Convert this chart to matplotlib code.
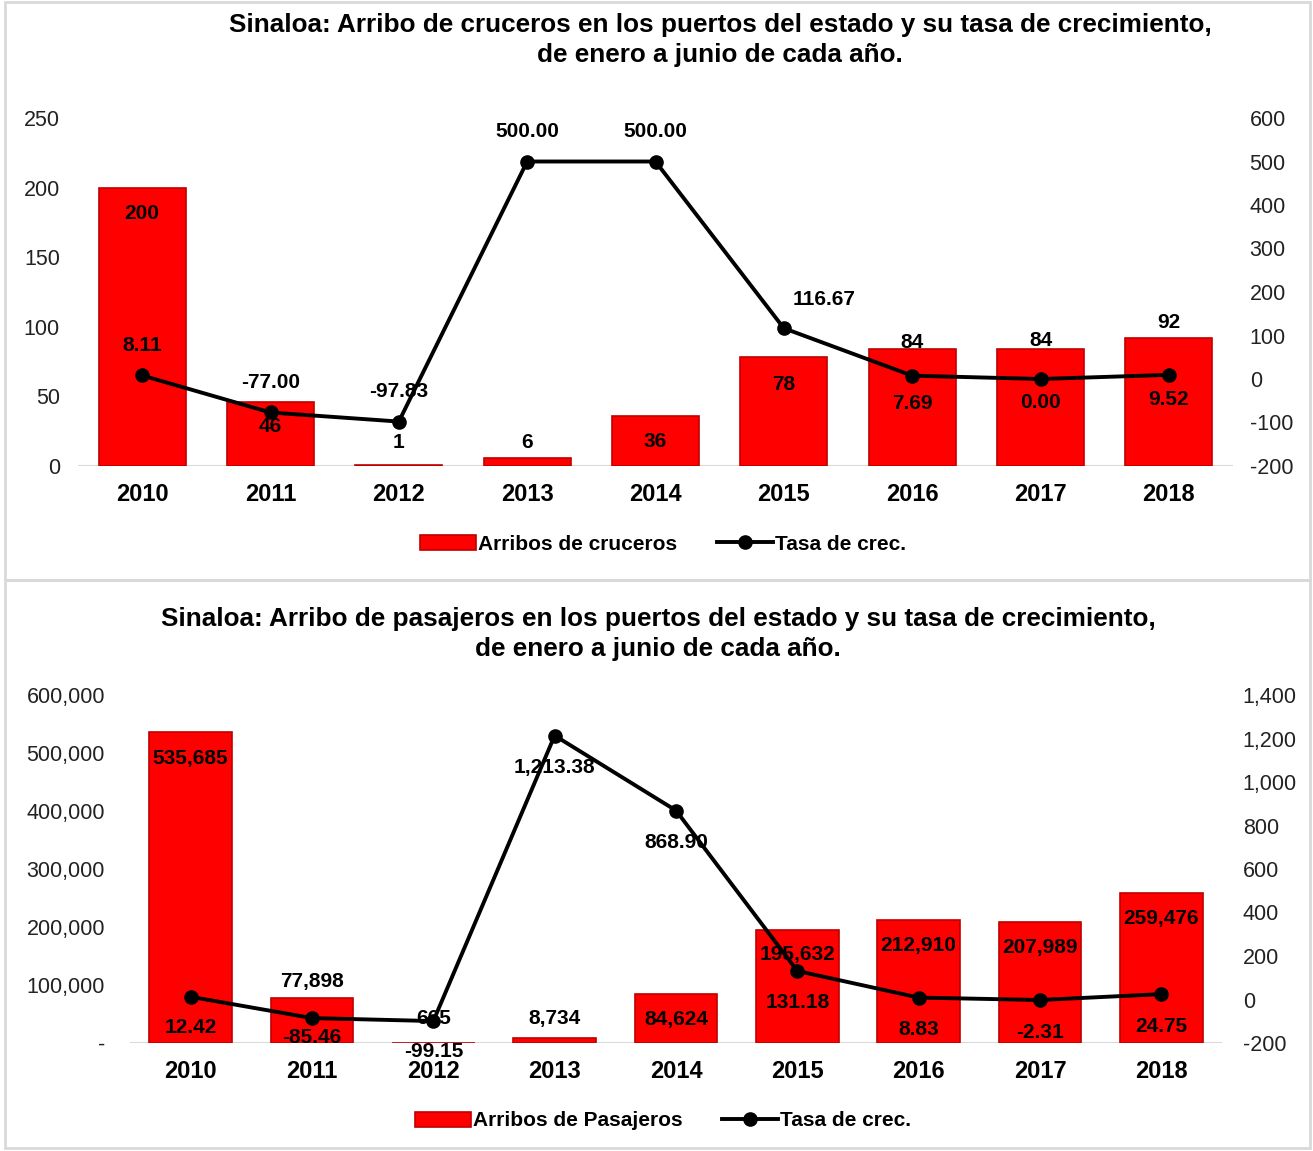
import matplotlib
matplotlib.use('Agg')
import matplotlib.pyplot as plt
from matplotlib.patches import Rectangle
from matplotlib.ticker import FuncFormatter

plt.rcParams['font.family'] = ['Liberation Sans', 'DejaVu Sans']

# data
years = ['2010', '2011', '2012', '2013', '2014', '2015', '2016', '2017', '2018']
cruceros = [200, 46, 1, 6, 36, 78, 84, 84, 92]
tasa_cruceros = [8.11, -77.00, -97.83, 500.00, 500.00, 116.67, 7.69, 0.00, 9.52]
pasajeros = [535685, 77898, 665, 8734, 84624, 195632, 212910, 207989, 259476]
tasa_pasajeros = [12.42, -85.46, -99.15, 1213.38, 868.90, 131.18, 8.83, -2.31, 24.75]

W, H = 1313, 1151
fig = plt.figure(figsize=(W / 100, H / 100), dpi=100)
PT = 0.72  # points per pixel at dpi 100


def rect(l, t, r, b):
    return [l / W, 1 - b / H, (r - l) / W, (b - t) / H]


# panel frames
for t, b in [(2, 580), (580, 1148)]:
    fig.patches.append(Rectangle((5 / W, 1 - b / H), 1305 / W, (b - t) / H,
                                 transform=fig.transFigure, fill=False,
                                 edgecolor='#d9d9d9', lw=2))


def panel(box, bars, rates, ylim, yticks, y2lim, y2ticks, lfmt, rfmt, pads,
          bar_dy, line_off, bar_lbl, rate_lbl, title, title_xy, leg_y, bar_name):
    ax = fig.add_axes(rect(*box))
    x = range(len(years))
    ax.bar(x, bars, width=0.68, color='#ff0000', edgecolor='#c00000', lw=1.2,
           label=bar_name, zorder=2)
    ax.axhline(0, color='#d9d9d9', lw=1.5, zorder=1)
    ax.set_xlim(-0.5, len(years) - 0.5)
    ax.set_ylim(*ylim)
    ax.set_yticks(yticks)
    ax.yaxis.set_major_formatter(FuncFormatter(lfmt))
    ax.set_xticks(list(x))
    ax.set_xticklabels(years, fontsize=17, fontweight='bold')
    ax.tick_params(axis='x', length=0, pad=12)
    ax.tick_params(axis='y', length=0, labelsize=15.5, colors='#222222', pad=pads[0])
    for s in ax.spines.values():
        s.set_visible(False)

    ax2 = ax.twinx()
    ax2.plot(x, rates, color='black', lw=2.8, marker='o', markersize=9.5,
             label='Tasa de crec.', zorder=3)
    ax2.set_ylim(*y2lim)
    ax2.set_yticks(y2ticks)
    ax2.yaxis.set_major_formatter(FuncFormatter(rfmt))
    ax2.tick_params(axis='y', length=0, labelsize=15.5, colors='#222222', pad=pads[1])
    for s in ax2.spines.values():
        s.set_visible(False)

    for i, v in enumerate(bars):
        ax.annotate(bar_lbl(v), (i, v), xytext=(0, -bar_dy[i] * PT),
                    textcoords='offset points', ha='center', va='center',
                    fontsize=15, fontweight='bold', zorder=5)
    for i, v in enumerate(rates):
        dx, dy = line_off[i]
        ax2.annotate(rate_lbl(v), (i, v), xytext=(dx * PT, -dy * PT),
                     textcoords='offset points', ha='center', va='center',
                     fontsize=15, fontweight='bold', zorder=5)

    fig.text(title_xy[0] / W, 1 - title_xy[1] / H, title, ha='center', va='center',
             fontsize=18.8, fontweight='bold', linespacing=1.32)

    h1, l1 = ax.get_legend_handles_labels()
    h2, l2 = ax2.get_legend_handles_labels()
    fig.legend(h1 + h2, l1 + l2, loc='center', bbox_to_anchor=(663 / W, 1 - leg_y / H),
               ncol=2, frameon=False, handlelength=2.7, handleheight=0.7,
               columnspacing=1.9, handletextpad=0.1,
               prop={'size': 15, 'weight': 'bold'})


panel((78, 118, 1233, 466), cruceros, tasa_cruceros,
      (0, 250), range(0, 251, 50), (-200, 600), range(-200, 601, 100),
      lambda v, p: f'{v:.0f}', lambda v, p: f'{v:.0f}', (13, 12),
      [26, 25, -22, -15, 26, 27, -7, -9, -15],
      [(0, -30), (0, -30), (0, -30), (0, -30), (0, -30), (40, -29), (0, 28), (0, 24), (0, 25)],
      lambda v: f'{v:.0f}', lambda v: f'{v:.2f}',
      'Sinaloa: Arribo de cruceros en los puertos del estado y su tasa de crecimiento,\n'
      'de enero a junio de cada año.', (720, 40), 544, 'Arribos de cruceros')

panel((130, 695, 1222, 1043), pasajeros, tasa_pasajeros,
      (0, 600000), range(0, 600001, 100000), (-200, 1400), range(-200, 1401, 200),
      lambda v, p: '-' if v == 0 else f'{v:,.0f}', lambda v, p: f'{v:,.0f}', (18, 15),
      [26, -16, -24, -19, 26, 25, 26, 25, 26],
      [(0, 31), (0, 19), (0, 30), (0, 32), (0, 32), (0, 32), (0, 32), (0, 32), (0, 32)],
      lambda v: f'{v:,.0f}', lambda v: f'{v:,.2f}',
      'Sinaloa: Arribo de pasajeros en los puertos del estado y su tasa de crecimiento,\n'
      'de enero a junio de cada año.', (658, 634), 1121, 'Arribos de Pasajeros')

fig.savefig('out.png', dpi=100, facecolor='white')
